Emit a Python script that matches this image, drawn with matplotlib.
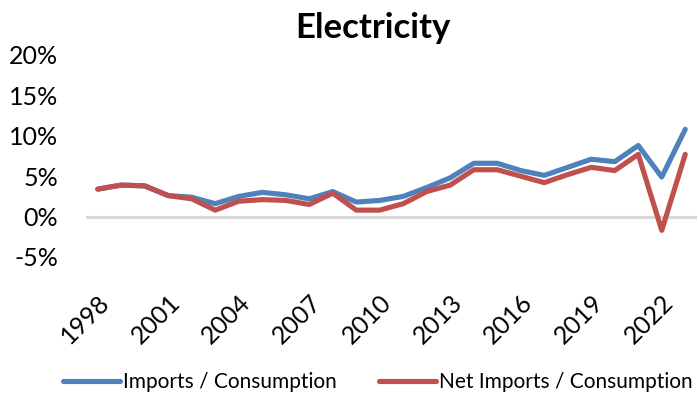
import matplotlib
matplotlib.use("Agg")
import matplotlib.pyplot as plt
from matplotlib.ticker import FuncFormatter, MultipleLocator

years = list(range(1998, 2024))
imports_share = [3.4, 3.9, 3.8, 2.6, 2.4, 1.6, 2.5, 3.0, 2.7, 2.2, 3.1, 1.8, 2.0, 2.5,
                 3.6, 4.8, 6.6, 6.6, 5.7, 5.1, 6.1, 7.1, 6.8, 8.8, 4.9, 10.8]
net_imports_share = [3.4, 3.9, 3.8, 2.6, 2.2, 0.8, 1.9, 2.1, 2.0, 1.5, 2.9, 0.8, 0.8, 1.6,
                     3.1, 3.9, 5.8, 5.8, 5.0, 4.2, 5.2, 6.1, 5.7, 7.7, -1.7, 7.7]
tick_years = [1998, 2001, 2004, 2007, 2010, 2013, 2016, 2019, 2022]
series_names = ["Imports / Consumption", "Net Imports / Consumption"]
title = "Electricity"

BLUE = "#4F81BD"
RED = "#C0504D"
FONT = "Lato"

fig = plt.figure(figsize=(6.98, 3.94), dpi=100)
ax = fig.add_axes([86 / 698, 1 - 257 / 394, 611 / 698, 202 / 394])

x = list(range(len(years)))
ax.axhline(0, color="#D9D9D9", linewidth=2.2, zorder=1)
ax.plot(x, imports_share, color=BLUE, linewidth=3.7, solid_joinstyle="round",
        solid_capstyle="round", label=series_names[0], zorder=3)
ax.plot(x, net_imports_share, color=RED, linewidth=3.7, solid_joinstyle="round",
        solid_capstyle="round", label=series_names[1], zorder=4)

ax.set_xlim(-0.5, len(years) - 0.5)
ax.set_ylim(-5, 20)
ax.yaxis.set_major_locator(MultipleLocator(5))
ax.yaxis.set_major_formatter(FuncFormatter(lambda v, p: f"{v:.0f}%"))
ax.set_xticks([years.index(y) for y in tick_years])
ax.set_xticklabels([str(y) for y in tick_years], rotation=45, ha="right",
                   rotation_mode="anchor", va="top")

for s in ax.spines.values():
    s.set_visible(False)
ax.tick_params(axis="both", length=0)
ax.tick_params(axis="y", pad=20, labelsize=18)
ax.tick_params(axis="x", pad=24, labelsize=18)
for lbl in ax.get_xticklabels() + ax.get_yticklabels():
    lbl.set_fontfamily(FONT)

fig.text(373 / 698, 1 - 28 / 394, title, ha="center", va="center",
         fontsize=25, fontweight="bold", fontfamily=FONT)

fig.legend(loc="center", bbox_to_anchor=(378 / 698, 1 - 382 / 394), ncol=2,
           frameon=False, prop={"family": FONT, "size": 15},
           handlelength=2.75, handletextpad=0.15, columnspacing=2.0)

fig.savefig("out.png", dpi=100)
